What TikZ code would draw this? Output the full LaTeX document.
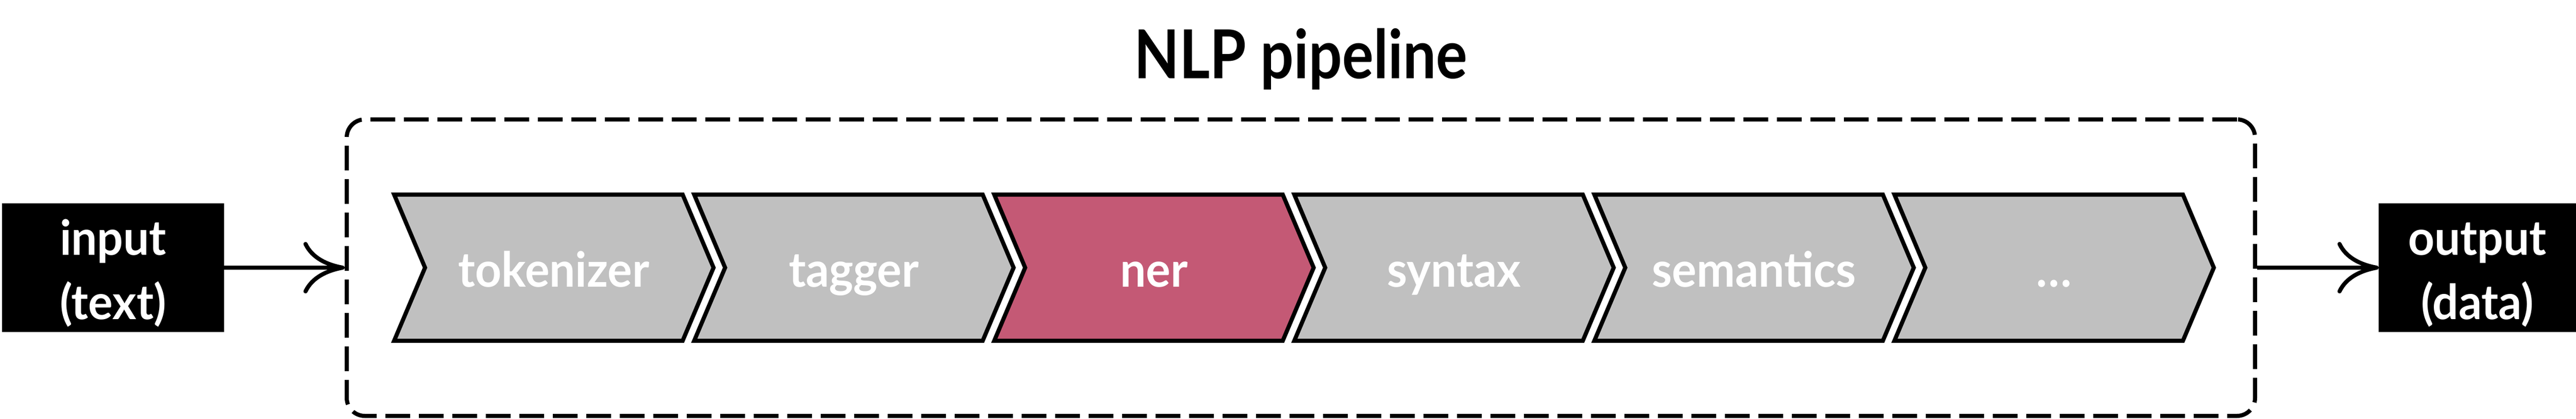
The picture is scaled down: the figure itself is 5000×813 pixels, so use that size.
\documentclass[tikz,border=0pt]{standalone}
\usepackage{fontspec}
\setmainfont{Lato}
\newfontfamily\titlefam[FakeStretch=0.87]{Lato}
\newfontfamily\labelfam[FakeStretch=0.95]{Lato}
\usetikzlibrary{arrows.meta}
\definecolor{stepgray}{HTML}{C0C0C0}
\definecolor{stepred}{HTML}{C45975}
\newcommand{\labelfont}{\labelfam\fontsize{26.7pt}{35.3pt}\selectfont\bfseries}
\newcommand{\titlefont}{\titlefam\fontsize{37.3pt}{44pt}\selectfont\bfseries}
\begin{document}
\begin{tikzpicture}[x=0.1mm,y=-0.1mm,
  chevshape/.style={draw=black, line width=0.8mm, line join=miter, miter limit=10},
  chevlabel/.style={text=white, font=\labelfont, text height=7mm, text depth=0pt, inner sep=0pt, anchor=base},
  iobox/.style={fill=black, draw=none, inner sep=0pt, outer sep=0pt, minimum height=25mm,
    text=white, align=center, font=\labelfont, text height=20mm, text depth=0pt},
  pipebox/.style={draw=black, line width=0.8mm, dash pattern=on 4.8mm off 1.7mm, rounded corners=3.5mm,
    minimum width=370.4mm, minimum height=57.6mm, inner sep=0pt},
  conn/.style={line width=0.8mm, -{Computer Modern Rightarrow[length=8mm,width=10mm]}}
]
\useasboundingbox (0,0) rectangle (5000,813);
\node[font=\titlefont, anchor=base, inner sep=0pt] (title) at (2525,152) {NLP pipeline};
\node[pipebox] (pipe) at (2525,520) {};
\node[iobox, minimum width=43.1mm] (input) at (219.5,520) {input\\(text)};
\node[iobox, minimum width=38.3mm] (output) at (4808.5,520) {output\\(data)};
\foreach \i/\t/\c in {0/tokenizer/stepgray, 1/tagger/stepgray, 2/ner/stepred, 3/syntax/stepgray, 4/semantics/stepgray, 5/…/stepgray}{
  \pgfmathsetmacro\L{765+582.4*\i}
  \draw[chevshape, fill=\c] (\L,378) -- ++(560,0) -- ++(60,142) -- ++(-60,142) -- ++(-560,0) -- ++(60,-142) -- cycle;
  \node[chevlabel] (c\i) at (\L+310,557) {\t};
}
\draw[conn] (input.east) -- (pipe.west);
\draw[conn] (pipe.east) -- (output.west);
\end{tikzpicture}
\end{document}
